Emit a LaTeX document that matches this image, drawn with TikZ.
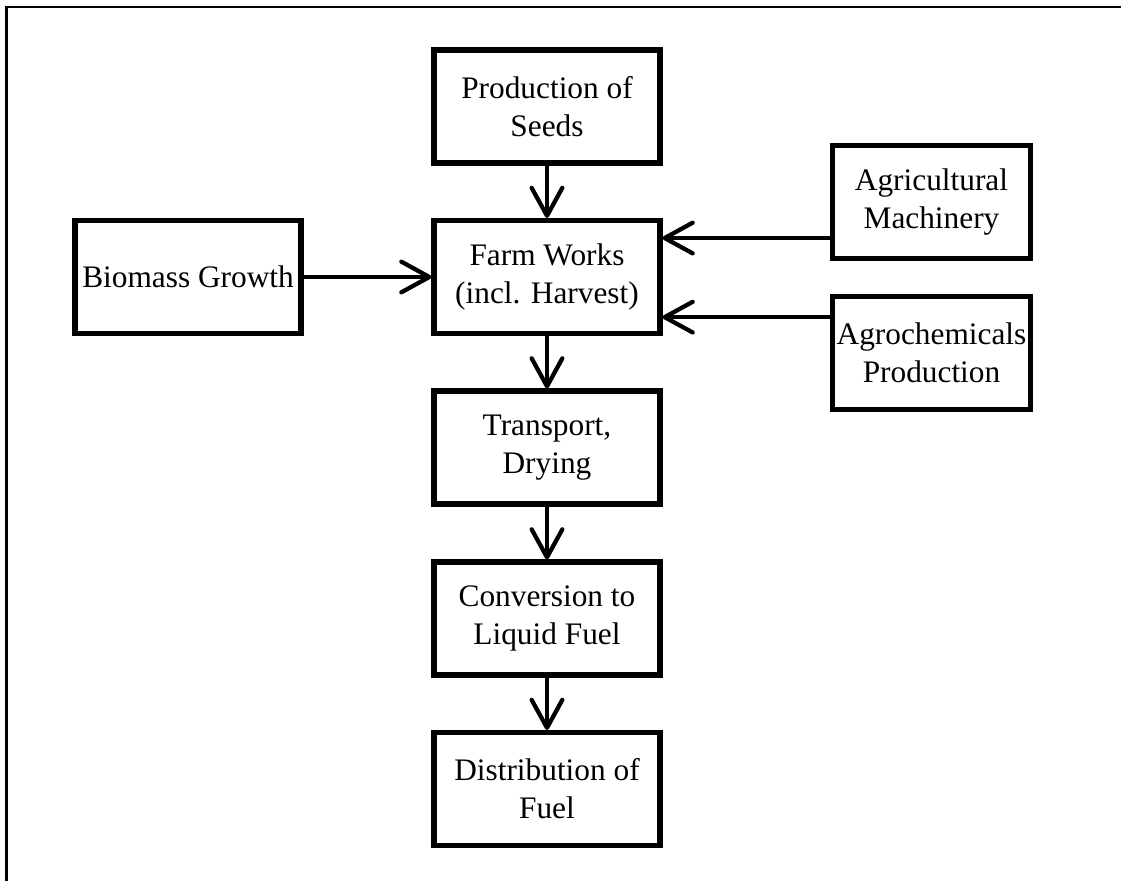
\documentclass[tikz,border=0pt]{standalone}
\usepackage{fontspec}
\setmainfont{Liberation Serif}
\usetikzlibrary{arrows.meta,calc}
\begin{document}
\begin{tikzpicture}[x=0.75pt,y=-0.75pt,
  proc/.style={draw=black,line width=3.8pt,rectangle,align=center,
    minimum width=169.5pt,minimum height=84.75pt,inner sep=0pt,
    font=\fontsize{23.5}{28.5}\selectfont},
  side/.style={proc,minimum width=149pt},
  flow/.style={line width=3.2pt,
    -{Straight Barb[length=21pt,width=23pt,line width=3.2pt,round]}}]
  \useasboundingbox (0,0) rectangle (1121,881);
  % frame: top and left edges only
  \draw[line width=1.6pt] (6.5,881) -- (6.5,7) -- (1121,7);

  % main chain
  \node[proc] (seeds) at (547,106.5) {Production of\\Seeds};
  \node[proc] (farm) at (547,277) {Farm Works\\(incl. Harvest)};
  \node[proc] (trans) at (547,447.5) {Transport,\\Drying};
  \node[proc] (conv) at (547,618.5) {Conversion to\\Liquid Fuel};
  \node[proc] (dist) at (547,789) {Distribution of\\Fuel};

  % side inputs
  \node[proc] (bio) at (188,277) {Biomass Growth};
  \node[side] (mach) at (931.5,202) {Agricultural\\Machinery};
  \node[side] (chem) at (931.5,353) {Agrochemicals\\Production};

  \coordinate (fm) at ($(farm.north east)!0.17!(farm.south east)$);
  \coordinate (fc) at ($(farm.north east)!0.84!(farm.south east)$);

  \draw[flow] (seeds) -- (farm);
  \draw[flow] (farm) -- (trans);
  \draw[flow] (trans) -- (conv);
  \draw[flow] (conv) -- (dist);
  \draw[flow] (bio) -- (farm);
  \draw[flow] (mach.west |- fm) -- (fm);
  \draw[flow] (chem.west |- fc) -- (fc);
\end{tikzpicture}
\end{document}
